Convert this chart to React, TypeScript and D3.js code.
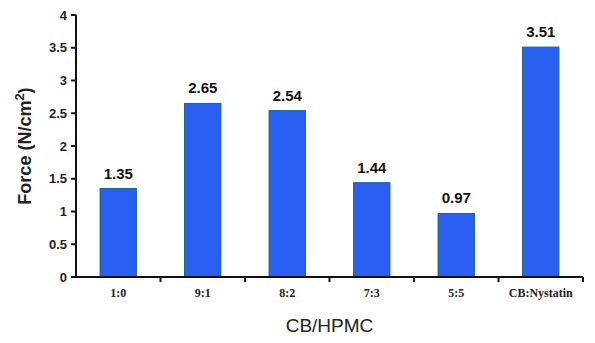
import React from "react";
import * as d3 from "d3";

// Mucoadhesive force by CB/HPMC ratio
const categories = ["1:0", "9:1", "8:2", "7:3", "5:5", "CB:Nystatin"];
const forces = [1.35, 2.65, 2.54, 1.44, 0.97, 3.51];
const yTicks = [0, 0.5, 1, 1.5, 2, 2.5, 3, 3.5, 4];

const W = 595;
const H = 343;
const margin = { left: 76, right: 12, top: 15, bottom: 66 };

export default function App() {
  const x = d3
    .scaleBand<string>()
    .domain(categories)
    .range([margin.left, W - margin.right])
    .paddingInner(0.57)
    .paddingOuter(0.285);
  const y = d3
    .scaleLinear()
    .domain([0, 4])
    .range([H - margin.bottom, margin.top]);

  const step = x.step();
  const x0 = margin.left;
  const bandEdges = categories.map((_, i) => x0 + step * (i + 1));
  const yBase = y(0);

  return (
    <svg
      width={W}
      height={H}
      style={{ position: "absolute", left: 0, top: 0, background: "#fff" }}
    >
      {/* bars */}
      {categories.map((c, i) => (
        <rect
          key={c}
          x={x(c)}
          y={y(forces[i])}
          width={x.bandwidth()}
          height={yBase - y(forces[i])}
          fill="#2b5ff2"
          stroke="#1d6478"
          strokeWidth={1}
        />
      ))}
      {/* value labels */}
      {categories.map((c, i) => (
        <text
          key={"v" + c}
          x={(x(c) as number) + x.bandwidth() / 2}
          y={y(forces[i]) - 10}
          textAnchor="middle"
          fontFamily="Liberation Sans, Arial, sans-serif"
          fontWeight="bold"
          fontSize={15}
          fill="#111"
        >
          {forces[i].toFixed(2)}
        </text>
      ))}
      {/* y axis */}
      <line x1={x0} x2={x0} y1={y(4)} y2={yBase} stroke="#111" strokeWidth={2} />
      {yTicks.map((t) => (
        <g key={t}>
          <line x1={x0 - 5} x2={x0} y1={y(t)} y2={y(t)} stroke="#111" strokeWidth={2} />
          <text
            x={x0 - 9}
            y={y(t)}
            dy="0.35em"
            textAnchor="end"
            fontFamily="Liberation Sans, Arial, sans-serif"
            fontWeight="bold"
            fontSize={13}
            fill="#222"
          >
            {t}
          </text>
        </g>
      ))}
      {/* x axis */}
      <line x1={x0 - 5} x2={W - margin.right} y1={yBase} y2={yBase} stroke="#111" strokeWidth={2} />
      {bandEdges.map((e, i) => (
        <line key={"t" + i} x1={e} x2={e} y1={yBase} y2={yBase + 5} stroke="#111" strokeWidth={2} />
      ))}
      {categories.map((c) => (
        <text
          key={"x" + c}
          x={(x(c) as number) + x.bandwidth() / 2}
          y={yBase + 20}
          textAnchor="middle"
          fontFamily="Liberation Serif, Times New Roman, serif"
          fontWeight="bold"
          fontSize={12}
          fill="#222"
        >
          {c}
        </text>
      ))}
      {/* axis titles */}
      <text
        x={(margin.left + W - margin.right) / 2}
        y={332}
        textAnchor="middle"
        fontFamily="Liberation Sans, Arial, sans-serif"
        fontSize={19}
        fill="#222"
      >
        CB/HPMC
      </text>
      <text
        transform={`translate(31, ${(y(0) + y(4)) / 2}) rotate(-90)`}
        textAnchor="middle"
        fontFamily="Liberation Sans, Arial, sans-serif"
        fontWeight="bold"
        fontSize={18}
        fill="#222"
      >
        Force (N/cm<tspan dy={-7} fontSize={13}>2</tspan>
        <tspan dy={7}>)</tspan>
      </text>
    </svg>
  );
}
